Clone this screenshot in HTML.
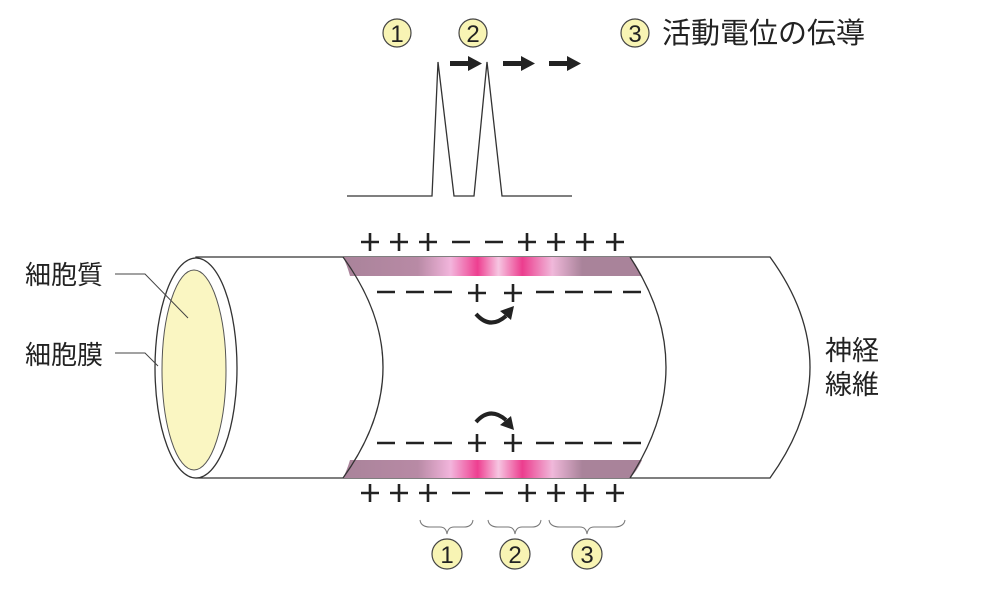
<!DOCTYPE html>
<html><head><meta charset="utf-8"><style>
html,body{margin:0;padding:0;background:#fff;}
svg{display:block}
text{font-family:"Liberation Sans","Noto Sans CJK JP",sans-serif;fill:#222}
</style></head><body>
<svg width="1000" height="600" viewBox="0 0 1000 600" xmlns="http://www.w3.org/2000/svg">
<defs>
<linearGradient id="pk" x1="0" x2="1" y1="0" y2="0">
<stop offset="0" stop-color="#a9839a"/>
<stop offset="0.25" stop-color="#b88aa5"/>
<stop offset="0.36" stop-color="#f2b5dc"/>
<stop offset="0.45" stop-color="#ee3f90"/>
<stop offset="0.52" stop-color="#f6c6e2"/>
<stop offset="0.6" stop-color="#ec3d8e"/>
<stop offset="0.7" stop-color="#f0b8da"/>
<stop offset="0.8" stop-color="#a9839a"/>
<stop offset="1" stop-color="#a9839a"/>
</linearGradient>
<g id="p"><path d="M-9,0 H9 M0,-9 V9" stroke="#222" stroke-width="2.6" fill="none"/></g>
<g id="m"><path d="M-9,0 H9" stroke="#222" stroke-width="2.6" fill="none"/></g>
</defs>
<!-- cylinder body -->
<path d="M196,257 L770,257 Q850,367 770,478 L196,478 Z" fill="#fff" stroke="#333" stroke-width="1.3"/>
<!-- bands -->
<path d="M343,257 L630,257 Q637,265 642,276 L350,276 Q347,265 343,257 Z" fill="url(#pk)"/>
<path d="M350,460 L642,460 Q637,471 630,478 L343,478 Q347,470 350,460 Z" fill="url(#pk)"/>
<!-- section arcs -->
<path d="M343,257 Q423,367 343,478" fill="none" stroke="#333" stroke-width="1.3"/>
<path d="M630,257 Q702,367 630,478" fill="none" stroke="#333" stroke-width="1.3"/>
<!-- left end -->
<ellipse cx="196" cy="368" rx="41" ry="110" fill="#fff" stroke="#333" stroke-width="1.3"/>
<ellipse cx="194" cy="370" rx="32" ry="100" fill="#faf6c2" stroke="#555" stroke-width="1"/>
<!-- labels -->
<text x="25" y="284" font-size="26">細胞質</text>
<text x="25" y="364" font-size="26">細胞膜</text>
<polyline points="115,274 145,274 188,318" fill="none" stroke="#444" stroke-width="1"/>
<polyline points="115,353 145,353 158,366" fill="none" stroke="#444" stroke-width="1"/>
<text x="825" y="360" font-size="27">神経</text>
<text x="825" y="394" font-size="27">線維</text>
<!-- charges -->
<use href="#p" x="370" y="242"/><use href="#p" x="399" y="242"/><use href="#p" x="428" y="242"/><use href="#m" x="461" y="242"/><use href="#m" x="494" y="242"/><use href="#p" x="527" y="242"/><use href="#p" x="556" y="242"/><use href="#p" x="585" y="242"/><use href="#p" x="615" y="242"/>
<use href="#p" x="370" y="493"/><use href="#p" x="399" y="493"/><use href="#p" x="428" y="493"/><use href="#m" x="461" y="493"/><use href="#m" x="494" y="493"/><use href="#p" x="527" y="493"/><use href="#p" x="556" y="493"/><use href="#p" x="585" y="493"/><use href="#p" x="615" y="493"/>
<use href="#m" x="386" y="292"/><use href="#m" x="415" y="292"/><use href="#m" x="443" y="292"/><use href="#p" x="477" y="293"/><use href="#p" x="513" y="293"/><use href="#m" x="545" y="292"/><use href="#m" x="574" y="292"/><use href="#m" x="603" y="292"/><use href="#m" x="632" y="292"/>
<use href="#m" x="386" y="443"/><use href="#m" x="415" y="443"/><use href="#m" x="443" y="443"/><use href="#p" x="477" y="443"/><use href="#p" x="513" y="443"/><use href="#m" x="545" y="443"/><use href="#m" x="574" y="443"/><use href="#m" x="603" y="443"/><use href="#m" x="632" y="443"/>
<!-- curved arrows -->
<path d="M476,314 Q490,330 506,316" fill="none" stroke="#222" stroke-width="4"/>
<path d="M500,311 L514,306 L511,320 Z" fill="#222"/>
<path d="M476,422 Q490,406 506,420" fill="none" stroke="#222" stroke-width="4"/>
<path d="M500,425 L514,430 L511,416 Z" fill="#222"/>
<!-- braces -->
<g fill="none" stroke="#777" stroke-width="1">
<path d="M420,520 Q421,527 430,527 L440,527 Q446,527 447,534 Q448,527 454,527 L464,527 Q472,527 473,520"/>
<path d="M488,520 Q489,527 498,527 L508,527 Q514,527 515,534 Q516,527 522,527 L532,527 Q540,527 541,520"/>
<path d="M549,520 Q550,527 560,527 L580,527 Q586,527 587,534 Q588,527 594,527 L614,527 Q624,527 625,520"/>
</g>
<!-- circled numbers -->
<g stroke="#444" stroke-width="1.2" fill="#f8f4b4">
<circle cx="447" cy="554" r="15"/><circle cx="515" cy="554" r="15"/><circle cx="587" cy="554" r="15"/>
<circle cx="397" cy="33" r="14"/><circle cx="473" cy="33" r="14"/><circle cx="635" cy="33" r="14"/>
</g>
<g font-size="24" text-anchor="middle">
<text x="447" y="563">1</text><text x="515" y="563">2</text><text x="587" y="563">3</text>
<text x="397" y="42">1</text><text x="473" y="42">2</text><text x="635" y="42">3</text>
</g>
<text x="662" y="43" font-size="29">活動電位の伝導</text>
<!-- waveform -->
<polyline points="347,196 432,196 438,62 454,196 474,196 487,62 502,196 572,196" fill="none" stroke="#333" stroke-width="1.3"/>
<!-- straight arrows -->
<g fill="#222">
<rect x="450" y="61" width="20" height="5"/><path d="M468,56 L482,63.5 L468,71 Z"/>
<rect x="503" y="61" width="20" height="5"/><path d="M521,56 L535,63.5 L521,71 Z"/>
<rect x="549" y="61" width="20" height="5"/><path d="M567,56 L581,63.5 L567,71 Z"/>
</g>
</svg>
</body></html>
